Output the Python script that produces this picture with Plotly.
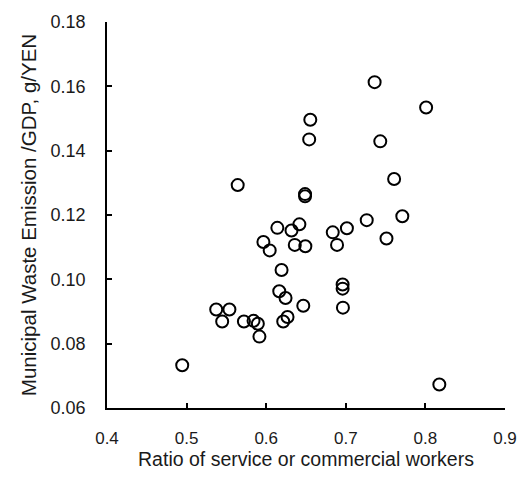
import plotly.graph_objects as go

ratio_service = [0.6554, 0.654, 0.5642, 0.6488, 0.6488, 0.614, 0.6318, 0.6417, 0.6836, 0.7014,
                 0.7362, 0.8009, 0.7433, 0.7607, 0.771, 0.7263, 0.7511, 0.5965, 0.6044, 0.6359,
                 0.6492, 0.689, 0.6193, 0.696, 0.696, 0.6964, 0.6164, 0.6243, 0.6466, 0.5372,
                 0.5538, 0.5447, 0.572, 0.5841, 0.5895, 0.6268, 0.6214, 0.5915, 0.4945, 0.8175]
waste_per_gdp = [0.1496, 0.1435, 0.1293, 0.1265, 0.1258, 0.116, 0.1152, 0.1171, 0.1146, 0.1159,
                 0.1613, 0.1534, 0.1429, 0.1312, 0.1196, 0.1184, 0.1127, 0.1116, 0.1090, 0.1107,
                 0.1103, 0.1107, 0.1029, 0.0984, 0.0971, 0.0912, 0.0963, 0.0942, 0.0918, 0.0906,
                 0.0906, 0.0869, 0.0869, 0.0871, 0.0862, 0.0883, 0.0869, 0.0822, 0.0733, 0.0673]

x_title = "Ratio of service or commercial workers"
y_title = "Municipal Waste Emission /GDP, g/YEN"

fig = go.Figure(go.Scatter(
    x=ratio_service, y=waste_per_gdp, mode="markers",
    marker=dict(symbol="circle-open", size=12, color="black", line=dict(width=2, color="black")),
))

font_family = "Liberation Sans, Arial, sans-serif"
fig.update_layout(
    width=529, height=480,
    margin=dict(l=107, r=20, t=18, b=72),
    paper_bgcolor="white", plot_bgcolor="white",
    showlegend=False,
    font=dict(family=font_family, size=18, color="#1a1a1a"),
)
fig.update_xaxes(
    range=[0.4, 0.9], dtick=0.1, tickformat=".1f",
    showgrid=False, zeroline=False, showline=True, linecolor="black", linewidth=1.5,
    ticks="inside", ticklen=5, tickwidth=1.5, tickcolor="black",
    tickfont=dict(size=17), ticklabelstandoff=14,
    title=dict(text=x_title, font=dict(size=19.5), standoff=3),
)
fig.update_yaxes(
    range=[0.06, 0.18], dtick=0.02, tickformat=".2f",
    showgrid=False, zeroline=False, showline=True, linecolor="black", linewidth=1.5,
    ticks="inside", ticklen=5, tickwidth=1.5, tickcolor="black",
    tickfont=dict(size=18), ticklabelstandoff=16,
    title=dict(text=y_title, font=dict(size=20.5), standoff=8),
)
fig.write_html("out.html")
